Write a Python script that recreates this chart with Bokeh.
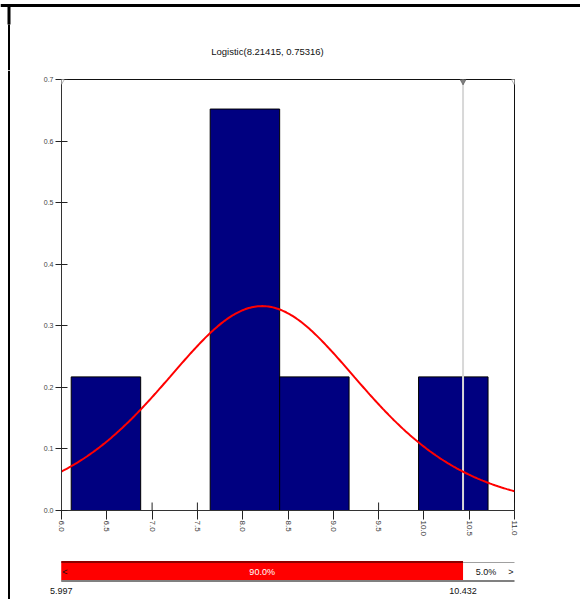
import numpy as np
from bokeh.plotting import figure
from bokeh.layouts import column, row
from bokeh.models import Range1d, FixedTicker, PrintfTickFormatter, PolyAnnotation
from bokeh.core.properties import value
from bokeh.embed import file_html
from bokeh.resources import INLINE

# ---- data -------------------------------------------------------------
MU = 8.21415          # logistic location
SCALE = 0.75316       # logistic scale

bin_left = [6.107, 6.874, 7.641, 8.408, 9.174, 9.941]
bin_right = [6.874, 7.641, 8.408, 9.174, 9.941, 10.708]
density = [0.217, 0.0, 0.652, 0.217, 0.0, 0.217]

x_ticks = [6.0, 6.5, 7.0, 7.5, 8.0, 8.5, 9.0, 9.5, 10.0, 10.5, 11.0]
y_ticks = [0.0, 0.1, 0.2, 0.3, 0.4, 0.5, 0.6, 0.7]

lower_bound = 5.997
upper_bound = 10.432
x_end_marker = 11.0
pct_left = 5.0
pct_middle = 90.0
pct_right = 5.0

XMIN, XMAX = 6.0, 11.0
YMIN, YMAX = 0.0, 0.7

# ---- layout constants (pixels) ---------------------------------------
W, H = 580, 599
TOP_H = 70
STRIP_W = 11
BAR_H = 52
MAIN_W = W - STRIP_W
MAIN_H = H - TOP_H - BAR_H
BORDER_L, BORDER_R, BORDER_T, BORDER_B = 50, 66, 9, 37
FRAME_W = MAIN_W - BORDER_L - BORDER_R
FRAME_H = MAIN_H - BORDER_T - BORDER_B
PX_X = FRAME_W / (XMAX - XMIN)      # pixels per x unit
PX_Y = FRAME_H / (YMAX - YMIN)      # pixels per y unit
RULE_X = 8.5                        # page-left rule

FONT = "Liberation Sans"
TXT = value(FONT)


def blank(width, height, xr, yr):
    f = figure(width=width, height=height, x_range=xr, y_range=yr,
               x_axis_location=None, y_axis_location=None,
               toolbar_location=None, output_backend="svg", min_border=0)
    f.outline_line_color = None
    f.xgrid.visible = False
    f.ygrid.visible = False
    f.background_fill_color = "white"
    f.border_fill_color = "white"
    return f


# ---- header strip: page rule, left rule and title --------------------
top = blank(W, TOP_H, Range1d(0, W), Range1d(TOP_H, 0))
top.segment(x0=[0], y0=[5], x1=[W], y1=[5], line_color="black", line_width=3)
top.segment(x0=[RULE_X], y0=[5], x1=[RULE_X], y1=[24], line_color="black", line_width=3)
top.segment(x0=[RULE_X], y0=[24], x1=[RULE_X], y1=[TOP_H], line_color="black", line_width=2)
top.text(x=[267], y=[51], text=[f"Logistic({MU}, {SCALE})"],
         text_font=TXT, text_font_size="9.5px", text_color="#111111",
         text_align="center", text_baseline="middle")

# ---- left rule -------------------------------------------------------
STRIP_H = H - TOP_H
strip = blank(STRIP_W, STRIP_H, Range1d(0, STRIP_W), Range1d(STRIP_H, 0))
strip.segment(x0=[RULE_X], y0=[0], x1=[RULE_X], y1=[STRIP_H], line_color="black", line_width=2)

# ---- main histogram --------------------------------------------------
p = figure(width=MAIN_W, height=MAIN_H,
           x_range=Range1d(XMIN, XMAX), y_range=Range1d(YMIN, YMAX),
           toolbar_location=None, output_backend="svg",
           min_border_left=BORDER_L, min_border_right=BORDER_R,
           min_border_top=BORDER_T, min_border_bottom=BORDER_B)
p.xgrid.visible = False
p.ygrid.visible = False
p.outline_line_color = "#111111"
p.outline_line_width = 1
p.background_fill_color = "white"
p.border_fill_color = "white"

p.xaxis.ticker = FixedTicker(ticks=x_ticks)
p.xaxis.formatter = PrintfTickFormatter(format="%.1f")
p.xaxis.major_label_orientation = -np.pi / 2
p.xaxis.major_tick_in = 0
p.xaxis.major_tick_out = 9
p.xaxis.minor_tick_line_color = None
p.xaxis.major_label_standoff = 1
p.xaxis.major_label_text_font = FONT
p.xaxis.major_label_text_font_size = "8px"
p.xaxis.major_label_text_color = "#333333"
p.xaxis.axis_line_color = "#333333"
p.xaxis.major_tick_line_color = "#222222"

p.yaxis.ticker = FixedTicker(ticks=y_ticks)
p.yaxis.formatter = PrintfTickFormatter(format="%.1f")
p.yaxis.major_tick_in = 6
p.yaxis.major_tick_out = 6
p.yaxis.minor_tick_line_color = None
p.yaxis.major_label_standoff = 2
p.yaxis.major_label_text_font = FONT
p.yaxis.major_label_text_font_size = "7px"
p.yaxis.major_label_text_color = "#444444"
p.yaxis.axis_line_color = "#333333"
p.yaxis.major_tick_line_color = "#222222"

# inner halves of the x ticks, drawn beneath the bars
p.segment(x0=x_ticks, y0=[YMIN] * len(x_ticks), x1=x_ticks,
          y1=[YMIN + 8 / PX_Y] * len(x_ticks), line_color="#222222", line_width=1)

p.quad(left=bin_left, right=bin_right, bottom=0, top=density,
       fill_color="#000080", line_color="black", line_width=1)

# marker line at the upper bound
p.segment(x0=[upper_bound], y0=[YMIN], x1=[upper_bound], y1=[YMAX],
          line_color="#d8d8d8", line_width=2)

# fitted logistic density
xs = np.linspace(XMIN, XMAX, 301)
z = np.exp(-(xs - MU) / SCALE)
pdf = z / (SCALE * (1.0 + z) ** 2)
p.line(xs, pdf, line_color="#ff0000", line_width=2)

# bound markers along the top edge (downward triangles)
TRI_HALF = 4.5 / PX_X
TRI_UP = 2.5 / PX_Y
TRI_DOWN = 5.5 / PX_Y
for xm, fill in [(lower_bound, "white"), (upper_bound, "#808080"), (x_end_marker, "white")]:
    p.add_layout(PolyAnnotation(
        xs=[xm - TRI_HALF, xm + TRI_HALF, xm],
        ys=[YMAX + TRI_UP, YMAX + TRI_UP, YMAX - TRI_DOWN],
        fill_color=fill, fill_alpha=1.0, line_color="#111111", line_width=1))

# ---- probability band ------------------------------------------------
band_start = XMIN - BORDER_L / PX_X
band_end = XMAX + BORDER_R / PX_X
q = blank(MAIN_W, BAR_H, Range1d(band_start, band_end), Range1d(BAR_H, 0))
q.quad(left=[lower_bound], right=[upper_bound], top=[15], bottom=[33],
       fill_color="#ff0000", line_color=None)
q.segment(x0=[lower_bound], y0=[14.5], x1=[upper_bound], y1=[14.5],
          line_color="#8b0000", line_width=2)
q.segment(x0=[upper_bound], y0=[15], x1=[XMAX], y1=[15],
          line_color="#a0a0a0", line_width=1)
q.segment(x0=[lower_bound], y0=[33.5], x1=[XMAX], y1=[33.5],
          line_color="#808080", line_width=2)

q.text(x=[lower_bound], y=[24], text=["<"], x_offset=1,
       text_font=TXT, text_font_size="9px", text_color="#111111",
       text_align="left", text_baseline="middle")
q.text(x=[XMAX], y=[24], text=[">"], x_offset=-1,
       text_font=TXT, text_font_size="9px", text_color="#111111",
       text_align="right", text_baseline="middle")
q.text(x=[(lower_bound + upper_bound) / 2], y=[24], text=[f"{pct_middle:.1f}%"],
       text_font=TXT, text_font_size="9px", text_color="white",
       text_align="center", text_baseline="middle")
q.text(x=[(upper_bound + XMAX) / 2 - 0.03], y=[24], text=[f"{pct_right:.1f}%"],
       text_font=TXT, text_font_size="9px", text_color="#111111",
       text_align="center", text_baseline="middle")
q.text(x=[lower_bound, upper_bound], y=[43.5, 43.5],
       text=[f"{lower_bound:.3f}", f"{upper_bound:.3f}"],
       text_font=TXT, text_font_size="9px", text_color="#111111",
       text_align="center", text_baseline="middle")

layout = column(
    top,
    row(strip, column(column(p, spacing=0), column(q, spacing=0), spacing=0), spacing=0),
    spacing=0,
)

open("out.html", "w").write(file_html(layout, INLINE))
